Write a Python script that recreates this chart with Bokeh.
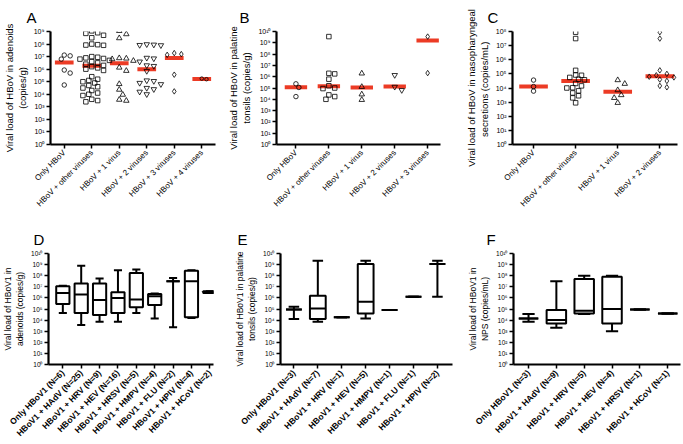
import math
import numpy as np
from bokeh.plotting import figure
from bokeh.layouts import row, column
from bokeh.models import Range1d, FixedTicker, CustomJSTickFormatter
from bokeh.embed import file_html
from bokeh.resources import INLINE

FONT = "Liberation Sans"
RED = "#ec3b25"

# ---------------- data (log10 of viral load) ----------------
a_cats = ["Only HBoV", "HBoV + other viruses", "HBoV + 1 virus",
          "HBoV + 2 viruses", "HBoV + 3 viruses", "HBoV + 4 viruses"]
a_only = [7.12, 7.06, 6.80, 5.93, 5.69, 4.74]
a_other = [9.05, 8.9, 8.85, 8.7, 8.5, 8.0, 7.95, 7.92, 7.9, 7.0, 6.95, 6.9, 6.85,
           6.8, 6.7, 6.6, 6.5, 6.4, 6.3, 6.2, 6.1, 6.0, 5.9, 5.4, 5.2, 5.1, 5.0,
           4.9, 4.7, 4.6, 4.5, 4.3, 4.1, 4.0, 3.9, 3.6, 3.5, 3.4]
a_one = [9.05, 8.79, 8.47, 6.88, 6.85, 6.80, 6.67, 6.13, 5.87, 4.82, 4.37, 3.97, 3.57, 3.49]
a_two = [7.98, 7.95, 7.92, 7.9, 6.9, 6.85, 6.6, 6.3, 6.25, 5.85, 5.1, 5.05, 4.9, 4.8,
         4.5, 4.4, 4.2, 4.0]
a_three = [7.28, 7.2, 7.14, 5.56, 4.23]
a_four = [5.25, 5.2]
a_median = [6.53, 6.27, 6.48, 6.0, 6.88, 5.21]

b_cats = ["Only HBoV", "HBoV + other viruses", "HBoV + 1 virus",
          "HBoV + 2 viruses", "HBoV + 3 viruses"]
b_only = [5.37, 5.05, 4.24]
b_other = [9.55, 6.3, 6.25, 5.78, 5.2, 5.0, 4.95, 4.39, 4.24, 4.0]
b_one = [6.29, 5.1, 4.44, 3.95]
b_two = [6.14, 5.1, 4.81]
b_three = [9.55, 6.32]
b_median = [5.07, 5.16, 5.04, 5.13, 9.2]

c_cats = ["Only HBoV", "HBoV + other viruses", "HBoV + 1 virus", "HBoV + 2 viruses"]
c_only = [4.56, 4.1, 3.78]
c_other = [7.95, 7.5, 5.25, 4.92, 4.9, 4.75, 4.62, 4.58, 4.32, 4.15, 4.02, 4.0,
           3.8, 3.65, 3.45, 3.3, 2.95]
c_one = [4.56, 4.3, 3.85, 3.5, 3.3, 2.95]
c_two = [7.95, 7.5, 5.25, 5.0, 4.9, 4.8, 4.75, 4.6, 4.5, 4.15, 4.05]
c_median = [4.11, 4.49, 3.73, 4.84]

d_cats = ["Only HBoV1 (N=6)", "HBoV1 + HAdV (N=25)", "HBoV1 + HRV (N=9)",
          "HBoV1 + HEV (N=16)", "HBoV1 + HRSV (N=5)", "HBoV1 + HMPV (N=4)",
          "HBoV1 + FLU (N=2)", "HBoV1 + HPIV (N=4)", "HBoV1 + HCoV (N=2)"]
d_lo = [4.65, 3.55, 3.85, 3.85, 4.65, 4.15, 3.35, 4.2, 6.45]
d_q1 = [5.45, 4.65, 4.45, 4.65, 5.15, 5.35, 7.5, 4.25, 6.45]
d_med = [6.45, 6.3, 5.8, 6.0, 5.85, 6.15, 7.5, 7.5, 6.52]
d_q3 = [7.05, 7.3, 7.3, 6.5, 8.25, 6.35, 7.5, 8.45, 6.6]
d_hi = [7.1, 8.9, 7.75, 8.5, 8.55, 6.4, 7.8, 8.5, 6.6]

e_cats = ["Only HBoV1 (N=3)", "HBoV1 + HAdV (N=7)", "HBoV1 + HRV (N=1)",
          "HBoV1 + HEV (N=5)", "HBoV1 + HMPV (N=1)", "HBoV1 + FLU (N=1)",
          "HBoV1 + HPIV (N=2)"]
e_lo = [4.1, 3.85, 4.25, 4.15, 4.9, 6.1, 6.1]
e_q1 = [4.95, 4.1, 4.25, 4.6, 4.9, 6.1, 9.05]
e_med = [4.95, 5.05, 4.25, 5.65, 4.9, 6.1, 9.05]
e_q3 = [4.95, 6.2, 4.25, 9.05, 4.9, 6.1, 9.05]
e_hi = [5.2, 9.35, 4.25, 9.35, 4.9, 6.1, 9.35]

f_cats = ["Only HBoV1 (N=3)", "HBoV1 + HAdV (N=9)", "HBoV1 + HRV (N=5)",
          "HBoV1 + HEV (N=4)", "HBoV1 + HRSV (N=1)", "HBoV1 + HCoV (N=1)"]
f_lo = [3.85, 3.3, 4.55, 3.0, 4.95, 4.6]
f_q1 = [4.15, 3.7, 4.6, 3.7, 4.95, 4.6]
f_med = [4.15, 4.0, 4.85, 5.0, 4.95, 4.6]
f_q3 = [4.15, 4.9, 7.7, 7.9, 4.95, 4.6]
f_hi = [4.55, 7.5, 8.0, 8.0, 4.95, 4.6]

# ---------------- helpers ----------------
SUP_JS = """
const sup = {"0":"\u2070","1":"\u00b9","2":"\u00b2","3":"\u00b3","4":"\u2074",
             "5":"\u2075","6":"\u2076","7":"\u2077","8":"\u2078","9":"\u2079"};
const k = Math.round(Math.log10(tick));
return "10" + String(k).split("").map(c => sup[c]).join("");
"""


def make_fig(width, height, xr, ymax, borders, cats, letter, letter_offset,
             ytitle, ytitle_size, xlab_size, xlab_style, tick_size):
    left, right, top, bottom = borders
    p = figure(width=width, height=height, x_range=Range1d(*xr),
               y_range=Range1d(1, 10 ** ymax), y_axis_type="log",
               output_backend="svg", toolbar_location=None,
               min_border_left=left, min_border_right=right,
               min_border_top=top, min_border_bottom=bottom)
    p.outline_line_color = None
    p.xgrid.visible = False
    p.ygrid.visible = False
    p.background_fill_color = "white"
    p.border_fill_color = "white"

    p.title.text = letter
    p.title.text_font = FONT
    p.title.text_font_style = "normal"
    p.title.text_font_size = "15px"
    p.title.text_color = "black"
    p.title.align = "left"
    p.title.offset = letter_offset
    p.title.standoff = 12

    for ax in (p.xaxis[0], p.yaxis[0]):
        ax.axis_line_width = 2.2
        ax.axis_line_color = "black"
        ax.major_tick_line_width = 1.5
        ax.major_tick_line_color = "black"
        ax.major_tick_out = 4
        ax.major_tick_in = 0
        ax.minor_tick_line_color = None
        ax.major_label_text_font = FONT
        ax.major_label_text_color = "black"
        ax.axis_label_text_font = FONT
        ax.axis_label_text_font_style = "normal"
        ax.axis_label_text_color = "black"

    xa = p.xaxis[0]
    xa.ticker = FixedTicker(ticks=list(range(len(cats))))
    xa.major_label_overrides = {i: c for i, c in enumerate(cats)}
    xa.major_label_orientation = math.pi / 4
    xa.major_label_text_font_size = xlab_size
    xa.major_label_text_font_style = xlab_style
    xa.major_label_standoff = 3

    ya = p.yaxis[0]
    ya.ticker = FixedTicker(ticks=[10 ** k for k in range(ymax + 1)], minor_ticks=[])
    ya.formatter = CustomJSTickFormatter(code=SUP_JS)
    ya.major_label_text_font_size = tick_size
    ya.major_label_standoff = 2
    ya.axis_label = ytitle
    ya.axis_label_text_font_size = ytitle_size
    ya.axis_label_standoff = 3
    return p


def swarm(vals, px_step, px_dec, diam):
    vals = np.asarray(vals, dtype=float)
    order = np.argsort(vals)[::-1]
    placed = []
    offs = np.zeros(len(vals))
    for idx in order:
        y = vals[idx] * px_dec
        cands = [0.0]
        for j in range(1, 40):
            cands += [j * diam * 0.6, -j * diam * 0.6]
        for c in cands:
            ok = True
            for (px, py) in placed:
                if (px - c) ** 2 + (py - y) ** 2 < (diam * 0.9) ** 2:
                    ok = False
                    break
            if ok:
                placed.append((c, y))
                offs[idx] = c / px_step
                break
    return offs


def scatter_panel(p, groups, medians, px_step, px_dec):
    xs = np.arange(len(medians))
    p.segment(x0=xs - 0.34, x1=xs + 0.34, y0=[10 ** m for m in medians],
              y1=[10 ** m for m in medians], line_color=RED, line_width=4)
    for i, (vals, marker, size) in enumerate(groups):
        offs = swarm(vals, px_step, px_dec, size + 0.5)
        p.scatter(x=i + offs, y=[10 ** v for v in vals], marker=marker, size=size,
                  fill_color=None, line_color="black", line_width=0.8)


def box_panel(p, lo, q1, med, q3, hi, bw=0.36, cw=0.22):
    xs = np.arange(len(lo))
    P = lambda a: [10 ** v for v in a]
    p.segment(x0=xs, x1=xs, y0=P(q3), y1=P(hi), line_color="black", line_width=2)
    p.segment(x0=xs, x1=xs, y0=P(lo), y1=P(q1), line_color="black", line_width=2)
    p.segment(x0=xs - cw, x1=xs + cw, y0=P(hi), y1=P(hi), line_color="black", line_width=2)
    p.segment(x0=xs - cw, x1=xs + cw, y0=P(lo), y1=P(lo), line_color="black", line_width=2)
    p.quad(left=xs - bw, right=xs + bw, bottom=P(q1), top=P(q3), fill_color="white",
           line_color="black", line_width=2)
    p.segment(x0=xs - bw, x1=xs + bw, y0=P(med), y1=P(med), line_color="black", line_width=2)


# ---------------- top row (222 px) ----------------
TOP_H = 222
pa = make_fig(225, TOP_H, (-0.5, 5.5), 9, (47, 10, 30, 78), a_cats, "A", -24,
              "Viral load of HBoV in adenoids\n(copies/g)", "9.5px", "8px", "normal", "7px")
scatter_panel(pa, [(a_only, "circle", 4.5), (a_other, "square", 4.5),
                   (a_one, "triangle", 5.5), (a_two, "inverted_triangle", 5.5),
                   (a_three, "diamond", 5.5), (a_four, "circle", 3.5)],
              a_median, 28, 12.6)

pb = make_fig(237, TOP_H, (-0.59, 4.39), 10, (47, 22, 30, 78), b_cats, "B", -37,
              "Viral load of HBoV in palatine\ntonsils (copies/g)", "9.5px", "8px", "normal", "7px")
scatter_panel(pb, [(b_only, "circle", 4.5), (b_other, "square", 4.5),
                   (b_one, "triangle", 5.5), (b_two, "inverted_triangle", 5.5),
                   (b_three, "diamond", 5.5)],
              b_median, 33.7, 11.3)

pc = make_fig(221, TOP_H, (-0.5, 3.42), 8, (46, 6, 30, 78), c_cats, "C", -25,
              "Viral load of HBoV in nasopharyngeal\nsecretions  (copies/mL)", "9.5px", "8px", "normal", "7px")
scatter_panel(pc, [(c_only, "circle", 4.5), (c_other, "square", 4.5),
                   (c_one, "triangle", 5.5), (c_two, "diamond", 5.5)],
              c_median, 43, 14.1)

# ---------------- bottom row (222 px) ----------------
BOT_H = 222
pd_ = make_fig(225, BOT_H, (-0.78, 8.2), 10, (45, 12, 30, 80), d_cats, "D", -15,
               "Viral load of HBoV1 in\nadenoids (copies/g)", "8.5px", "8.5px", "bold", "6.5px")
box_panel(pd_, d_lo, d_q1, d_med, d_q3, d_hi)

pe = make_fig(237, BOT_H, (-0.56, 6.63), 10, (55, 10, 30, 80), e_cats, "E", -43,
              "Viral load of HBoV1 in palatine\ntonsils (copies/g)", "8.5px", "8.5px", "bold", "6.5px")
box_panel(pe, e_lo, e_q1, e_med, e_q3, e_hi, bw=0.33, cw=0.22)

pf = make_fig(221, BOT_H, (-0.54, 5.46), 10, (51, 3, 30, 80), f_cats, "F", -27,
              "Viral load of HBoV1 in\nNPS (copies/mL)", "8.5px", "8.5px", "bold", "6.5px")
box_panel(pf, f_lo, f_q1, f_med, f_q3, f_hi, bw=0.35, cw=0.22)

layout = column(row(pa, pb, pc), row(pd_, pe, pf))

open("out.html", "w").write(file_html(layout, INLINE))
